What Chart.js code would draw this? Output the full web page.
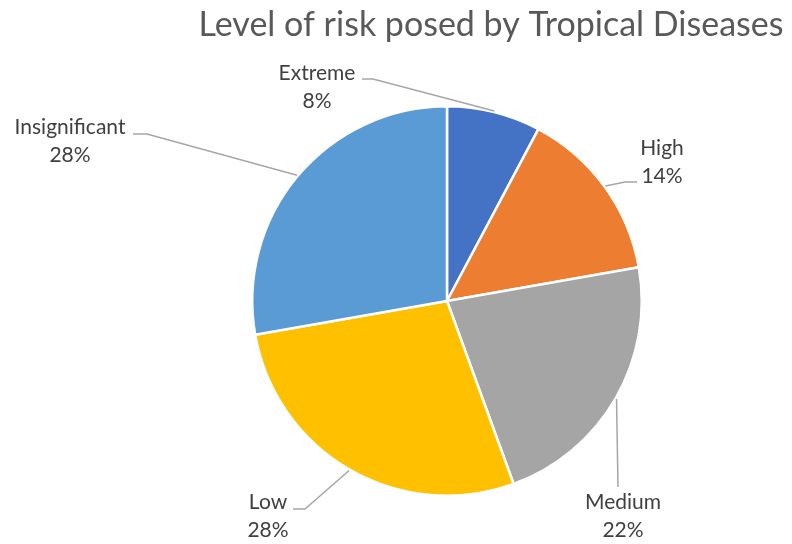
<!DOCTYPE html>
<html>
<head>
<meta charset="utf-8">
<script src="https://cdn.jsdelivr.net/npm/chart.js@4/dist/chart.umd.min.js"></script>
<style>
  html, body { margin: 0; padding: 0; background: #fff; }
  #wrap { width: 792px; height: 544px; position: relative; }
</style>
</head>
<body>
<div id="wrap"><canvas id="c" width="792" height="544"></canvas></div>
<script>
const titleText = "Level of risk posed by Tropical Diseases";
const categories = ["Extreme", "High", "Medium", "Low", "Insignificant"];
const values = [7, 13, 20, 25, 25];
const colors = ["#4472C4", "#ED7D31", "#A5A5A5", "#FFC000", "#5B9BD5"];

// label placement: elbow point, line end and text center (first line) for each slice
const labelLayout = [
  { elbow: [373, 79], end: [362, 79], text: [317, 73] },
  { elbow: [625, 182], end: [637, 182], text: [662, 148] },
  { elbow: [618, 487], end: [618, 487], text: [623, 502] },
  { elbow: [305, 509], end: [293, 509], text: [268, 502] },
  { elbow: [147, 134], end: [133, 134], text: [70, 127] }
];

const FONT = "Lato, 'Open Sans', 'Liberation Sans', sans-serif";

const labelPlugin = {
  id: 'labels',
  afterDraw(chart) {
    const ctx = chart.ctx;
    const meta = chart.getDatasetMeta(0);
    const total = values.reduce((a, b) => a + b, 0);
    ctx.save();
    // title
    ctx.fillStyle = '#595959';
    ctx.font = '34px ' + FONT;
    ctx.textAlign = 'center';
    ctx.textBaseline = 'middle';
    ctx.fillText(titleText, 491, 25);

    meta.data.forEach((arc, i) => {
      const p = arc.getProps(['x', 'y', 'startAngle', 'endAngle', 'outerRadius'], true);
      const mid = (p.startAngle + p.endAngle) / 2;
      const r = p.outerRadius + 1;
      const sx = p.x + Math.cos(mid) * r;
      const sy = p.y + Math.sin(mid) * r;
      const L = labelLayout[i];
      ctx.strokeStyle = '#A6A6A6';
      ctx.lineWidth = 1.5;
      ctx.beginPath();
      ctx.moveTo(sx, sy);
      ctx.lineTo(L.elbow[0], L.elbow[1]);
      ctx.lineTo(L.end[0], L.end[1]);
      ctx.stroke();
      ctx.fillStyle = '#404040';
      ctx.font = '21px ' + FONT;
      ctx.textAlign = 'center';
      ctx.textBaseline = 'middle';
      const pct = Math.round(values[i] / total * 100) + '%';
      ctx.fillText(categories[i], L.text[0], L.text[1]);
      ctx.fillText(pct, L.text[0], L.text[1] + 28);
    });
    ctx.restore();
  }
};

new Chart(document.getElementById('c'), {
  type: 'pie',
  data: {
    labels: categories,
    datasets: [{
      data: values,
      backgroundColor: colors,
      borderColor: '#FFFFFF',
      borderWidth: 2.5
    }]
  },
  options: {
    responsive: false,
    animation: false,
    devicePixelRatio: 1,
    layout: { padding: { left: 251, right: 149, top: 105, bottom: 47 } },
    plugins: {
      legend: { display: false },
      tooltip: { enabled: false },
      title: { display: false }
    }
  },
  plugins: [labelPlugin]
});
</script>
</body>
</html>
